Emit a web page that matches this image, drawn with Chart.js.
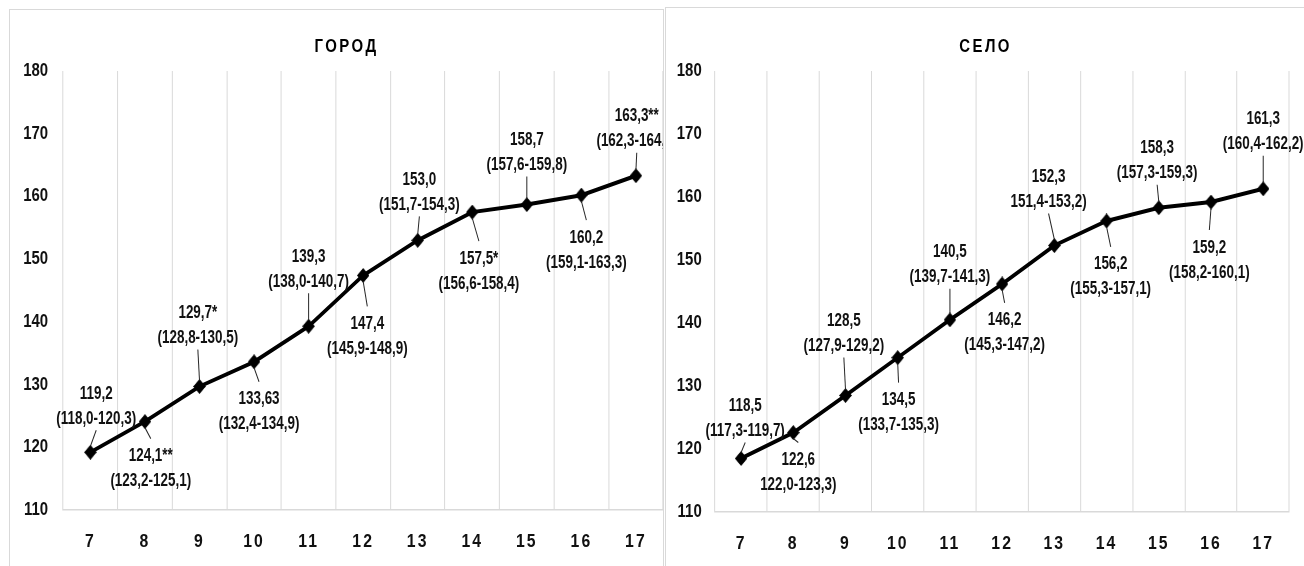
<!DOCTYPE html>
<html lang="ru">
<head>
<meta charset="utf-8">
<title>Длина тела детей 7–17 лет: город и село</title>
<script src="https://cdn.jsdelivr.net/npm/chart.js@4/dist/chart.umd.min.js"></script>
<style>
  html, body { margin: 0; padding: 0; background: #fff; }
  body { width: 1304px; height: 566px; position: relative; overflow: hidden; }
  .panel { position: absolute; box-sizing: border-box; border: 1px solid #d9d9d9; border-bottom: none; background: #fff; overflow: hidden; }
  #panelCity { left: 9px; top: 9px; width: 655px; height: 557px; }
  #panelVillage { left: 665px; top: 7px; width: 640px; height: 559px; border-right: none; }
  canvas { display: block; }
</style>
</head>
<body>
<div class="panel" id="panelCity"><canvas id="city" width="787" height="556"></canvas></div>
<div class="panel" id="panelVillage"><canvas id="village" width="769" height="558"></canvas></div>
<script>
// Age groups (years)
const ages = ['7', '8', '9', '10', '11', '12', '13', '14', '15', '16', '17'];

// Mean body length, cm — city
const cityHeight = [119.2, 124.1, 129.7, 133.63, 139.3, 147.4, 153.0, 157.5, 158.7, 160.2, 163.3];
const citySignif = ['', '**', '*', '', '', '', '', '*', '', '', '**'];
const cityRange = ['(118,0-120,3)', '(123,2-125,1)', '(128,8-130,5)', '(132,4-134,9)', '(138,0-140,7)',
  '(145,9-148,9)', '(151,7-154,3)', '(156,6-158,4)', '(157,6-159,8)', '(159,1-163,3)', '(162,3-164,3)'];

// Mean body length, cm — village
const villageHeight = [118.5, 122.6, 128.5, 134.5, 140.5, 146.2, 152.3, 156.2, 158.3, 159.2, 161.3];
const villageSignif = ['', '', '', '', '', '', '', '', '', '', ''];
const villageRange = ['(117,3-119,7)', '122,0-123,3)', '(127,9-129,2)', '(133,7-135,3)', '(139,7-141,3)',
  '(145,3-147,2)', '151,4-153,2)', '(155,3-157,1)', '(157,3-159,3)', '(158,2-160,1)', '(160,4-162,2)'];

// Value axis ticks
const heightTicks = [110, 120, 130, 140, 150, 160, 170, 180];

// Where each two-line note sits relative to its marker (right, down)
const cityNoteShift = [[7, -46], [7, 47], [-2, -61], [6, 50], [0, -57], [5, 61], [2, -48], [8, 59], [0, -52], [6, 55], [1, -47]];
const villageNoteShift = [[5, -40], [6, 40], [-2, -62], [1, 55], [0, -55], [3, 49], [-7, -56], [5, 56], [-2, -47], [-2, 58], [0, -57]];

// Everything is drawn on a horizontally condensed canvas
const SQUEEZE = 0.83;
const NOTE_SQUEEZE = 0.9;
const SANS = "'Liberation Sans', Arial, sans-serif";

function fmt(v) {
  const s = Number.isInteger(v) ? v.toFixed(1) : String(v);
  return s.replace('.', ',');
}

// Black diamond marker
const diamond = (() => {
  const c = document.createElement('canvas');
  c.width = 15; c.height = 15;
  const g = c.getContext('2d');
  g.fillStyle = '#000';
  g.beginPath();
  g.moveTo(7.5, 0); g.lineTo(15, 7.5); g.lineTo(7.5, 15); g.lineTo(0, 7.5);
  g.closePath(); g.fill();
  return c;
})();

const condense = {
  id: 'condense',
  afterLayout(chart) {
    // slightly spaced-out category labels on the age axis
    const x = chart.scales.x;
    if (!x._spacedLabels) {
      const base = x.drawLabels;
      x.drawLabels = function (area) {
        this.ctx.save();
        this.ctx.letterSpacing = '2.5px';
        base.call(this, area);
        this.ctx.restore();
      };
      x._spacedLabels = true;
    }
  },
  beforeDraw(chart) {
    chart.ctx.setTransform(SQUEEZE, 0, 0, 1, 0, 0);
  }
};

// Spaced-out panel heading above the plot
const panelTitle = {
  id: 'panelTitle',
  afterDraw(chart, args, opts) {
    const { ctx, chartArea } = chart;
    ctx.save();
    ctx.font = 'bold 18px ' + SANS;
    ctx.letterSpacing = '3px';
    ctx.fillStyle = '#000';
    ctx.textAlign = 'center';
    ctx.textBaseline = 'middle';
    ctx.fillText(opts.text, (chartArea.left + chartArea.right) / 2 - 20, chartArea.top - 24);
    ctx.restore();
  }
};

// Mean value + interval over/under each marker, with a thin leader line
const pointNotes = {
  id: 'pointNotes',
  afterDatasetsDraw(chart, args, opts) {
    const ctx = chart.ctx;
    const meta = chart.getDatasetMeta(0);
    const values = chart.data.datasets[0].data;
    meta.data.forEach((pt, i) => {
      const [dx, dy] = opts.shift[i];
      const cx = pt.x + dx, cy = pt.y + dy;
      ctx.save();
      ctx.beginPath();
      if (dy < 0) { ctx.moveTo(cx, cy + 24); ctx.lineTo(pt.x, pt.y - 6); }
      else { ctx.moveTo(pt.x, pt.y + 6); ctx.lineTo(cx, cy - 30); }
      ctx.strokeStyle = '#262626';
      ctx.lineWidth = 1.2;
      ctx.stroke();
      ctx.translate(cx, cy);
      ctx.scale(NOTE_SQUEEZE, 1);
      ctx.font = 'bold 18px ' + SANS;
      ctx.textAlign = 'center';
      ctx.textBaseline = 'middle';
      ctx.fillStyle = '#111';
      ctx.fillText(fmt(values[i]) + opts.signif[i], 0, -12.5);
      ctx.fillText(opts.ranges[i], 0, 12.5);
      ctx.restore();
    });
  }
};

function makeChart(id, values, signif, ranges, shift, title, geo) {
  return new Chart(document.getElementById(id), {
    type: 'line',
    data: {
      labels: ages,
      datasets: [{
        data: values,
        borderColor: '#000',
        borderWidth: 4,
        pointStyle: diamond,
        pointRadius: 8,
        pointHoverRadius: 8,
        tension: 0,
        fill: false
      }]
    },
    options: {
      responsive: false,
      animation: false,
      events: [],
      devicePixelRatio: 1,
      layout: { padding: geo.padding, autoPadding: false },
      plugins: {
        legend: { display: false },
        tooltip: { enabled: false },
        title: { display: false },
        panelTitle: { text: title },
        pointNotes: { signif, ranges, shift }
      },
      scales: {
        x: {
          offset: true,
          grid: { offset: true, color: '#d9d9d9', lineWidth: 1.2, drawTicks: false },
          border: { display: true, color: '#d9d9d9', width: 1.5 },
          ticks: { color: '#111', padding: 20, font: { family: SANS, size: 19, weight: 'bold' } },
          afterFit(s) { s.height = 50; }
        },
        y: {
          min: 110,
          max: 180,
          grid: { display: false, drawTicks: false },
          border: { display: false },
          ticks: { color: '#111', padding: geo.tickPad, font: { family: SANS, size: 18, weight: 'bold' } },
          afterBuildTicks(s) { s.ticks = heightTicks.map(v => ({ value: v })); },
          afterFit(s) { s.width = geo.axisWidth; }
        }
      }
    },
    plugins: [condense, panelTitle, pointNotes]
  });
}

makeChart('city', cityHeight, citySignif, cityRange, cityNoteShift, 'ГОРОД',
  { padding: { top: 61, right: 0, bottom: 6, left: 0 }, axisWidth: 64, tickPad: 18 });
makeChart('village', villageHeight, villageSignif, villageRange, villageNoteShift, 'СЕЛО',
  { padding: { top: 63, right: 18, bottom: 4, left: 0 }, axisWidth: 59, tickPad: 16 });
</script>
</body>
</html>
